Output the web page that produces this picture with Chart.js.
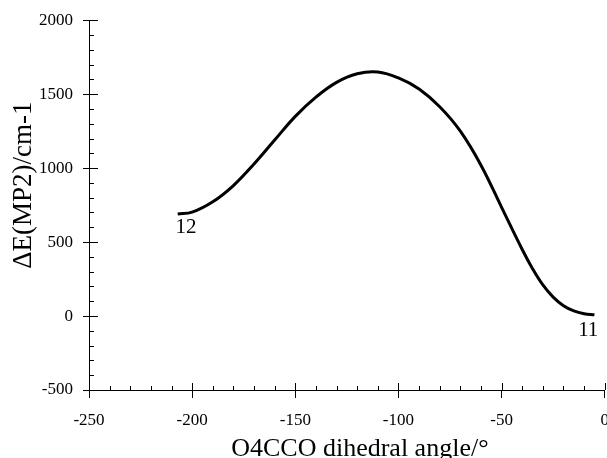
<!DOCTYPE html>
<html>
<head>
<meta charset="utf-8">
<script src="https://cdn.jsdelivr.net/npm/chart.js@4"></script>
<style>
  html, body { margin: 0; padding: 0; background: #fff; overflow: hidden; }
  canvas { display: block; }
</style>
</head>
<body>
<canvas id="scanChart" width="621" height="458"></canvas>
<script>
// Relaxed scan: O4CCO dihedral angle (deg) vs MP2 energy (cm-1)
const angles = [-207, -200, -190, -180, -170, -160, -150, -140, -130, -120, -110, -100, -90, -80, -70, -60, -50, -40, -35, -30, -25, -20, -15, -10, -5];
const energies = [690, 702, 772, 882, 1028, 1190, 1350, 1480, 1580, 1638, 1650, 1610, 1535, 1415, 1250, 1020, 735, 450, 320, 210, 128, 70, 35, 16, 8];

const xTicks = [-250, -200, -150, -100, -50, 0];
const yTicks = [-500, 0, 500, 1000, 1500, 2000];

// conformer labels at the ends of the curve
const pointLabels = ['12', '11'];
const pointLabelX = [-203, -8];
const pointLabelY = [601, -95];

const xTitle = 'O4CCO dihedral angle/°';
const yTitle = 'ΔE(MP2)/cm-1';

const serif = '"Liberation Serif", "Times New Roman", serif';

// inside tick marks, minor ticks, labels and axis titles
const decorPlugin = {
    id: 'decor',
    afterDraw(chart) {
        const ctx = chart.ctx;
        const xs = chart.scales.x;
        const ys = chart.scales.y;
        const area = chart.chartArea;
        ctx.save();
        ctx.strokeStyle = '#000';
        ctx.lineWidth = 1;
        ctx.beginPath();
        // x axis: minor every 10, major inside part
        for (let v = -250; v <= 0; v += 10) {
            const px = Math.round(xs.getPixelForValue(v)) + 0.5;
            const len = (v % 50 === 0) ? 7 : 4;
            ctx.moveTo(px, area.bottom);
            ctx.lineTo(px, area.bottom - len);
        }
        // y axis: minor every 100, major inside part
        for (let v = -500; v <= 2000; v += 100) {
            const py = Math.round(ys.getPixelForValue(v)) + 0.5;
            const len = (v % 500 === 0) ? 9 : 5;
            ctx.moveTo(area.left, py);
            ctx.lineTo(area.left + len, py);
        }
        ctx.stroke();

        ctx.fillStyle = '#000';
        ctx.font = '21px ' + serif;
        ctx.textAlign = 'center';
        ctx.textBaseline = 'middle';
        pointLabels.forEach((t, i) => {
            ctx.fillText(t, xs.getPixelForValue(pointLabelX[i]), ys.getPixelForValue(pointLabelY[i]));
        });

        ctx.font = '26px ' + serif;
        ctx.textBaseline = 'alphabetic';
        ctx.fillText(xTitle, area.left + (area.right - area.left) / 2 + 13, chart.height - 2);

        ctx.translate(31, area.top + (area.bottom - area.top) / 2 - 20);
        ctx.rotate(-Math.PI / 2);
        ctx.font = '27px ' + serif;
        ctx.fillText(yTitle, 0, 0);
        ctx.restore();
    }
};

const ctx = document.getElementById('scanChart').getContext('2d');
new Chart(ctx, {
    type: 'scatter',
    data: {
        datasets: [{
            data: angles.map((a, i) => ({ x: a, y: energies[i] })),
            showLine: true,
            borderColor: '#000',
            borderWidth: 3,
            pointRadius: 0,
            tension: 0.4,
            fill: false
        }]
    },
    options: {
        responsive: false,
        animation: false,
        layout: { padding: { top: 20, right: 0, left: 0, bottom: 0 } },
        plugins: {
            legend: { display: false },
            tooltip: { enabled: false }
        },
        scales: {
            x: {
                type: 'linear',
                min: -250,
                max: 0,
                afterBuildTicks: s => { s.ticks = xTicks.map(v => ({ value: v })); },
                afterFit: s => { s.height = 68; },
                grid: { display: true, drawOnChartArea: false, drawTicks: true, tickLength: 8, color: '#000' },
                border: { display: true, color: '#000', width: 1 },
                ticks: {
                    color: '#000',
                    padding: 12,
                    maxRotation: 0,
                    font: { family: serif, size: 17 },
                    callback: v => String(v)
                }
            },
            y: {
                type: 'linear',
                min: -500,
                max: 2000,
                afterBuildTicks: s => { s.ticks = yTicks.map(v => ({ value: v })); },
                afterFit: s => { s.width = 89; },
                grid: { display: true, drawOnChartArea: false, drawTicks: true, tickLength: 6, color: '#000' },
                border: { display: true, color: '#000', width: 1 },
                ticks: {
                    color: '#000',
                    padding: 10,
                    font: { family: serif, size: 17 },
                    callback: v => String(v)
                }
            }
        }
    },
    plugins: [decorPlugin]
});
</script>
</body>
</html>
